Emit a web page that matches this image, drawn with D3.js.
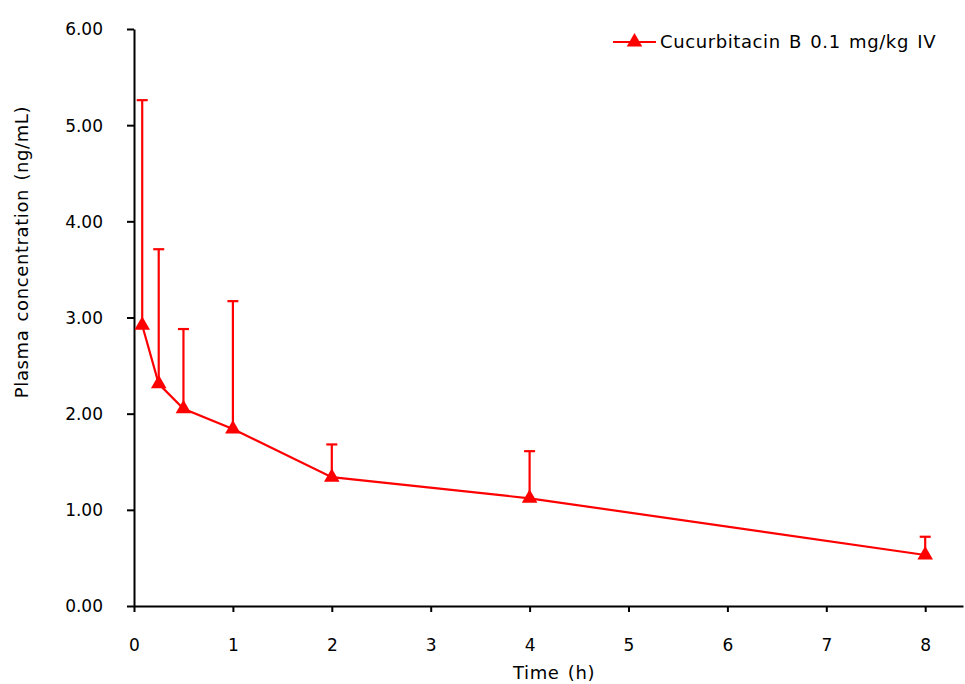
<!DOCTYPE html>
<html>
<head>
<meta charset="utf-8">
<script src="https://cdn.jsdelivr.net/npm/d3@7"></script>
<style>
  body { margin: 0; background: #fff; }
  svg text { font-family: "DejaVu Sans", sans-serif; fill: #000; }
  .lbl { font-size: 18px; letter-spacing: 0.6px; word-spacing: 2px; }
</style>
</head>
<body>
<div id="chart"></div>
<script>
// Cucurbitacin B 0.1 mg/kg IV plasma profile
const times = [0.083, 0.25, 0.5, 1, 2, 4, 8];
const conc = [2.92, 2.31, 2.05, 1.84, 1.34, 1.12, 0.53];
const errUpper = [5.26, 3.71, 2.88, 3.17, 1.68, 1.61, 0.72];
const xTicks = [0, 1, 2, 3, 4, 5, 6, 7, 8];
const yTicks = [0, 1, 2, 3, 4, 5, 6];
const seriesName = 'Cucurbitacin B 0.1 mg/kg IV';

const width = 965, height = 684;
const margin = { left: 134, right: 2, top: 29, bottom: 78 };
const red = '#ff0000';

const svg = d3.select('#chart').append('svg')
  .attr('width', width)
  .attr('height', height);

const x = d3.scaleLinear()
  .domain([0, (width - margin.right - margin.left) / 98.9])
  .range([margin.left, width - margin.right]);
const y = d3.scaleLinear()
  .domain([0, 6])
  .range([height - margin.bottom, margin.top]);

// axes
const xAxis = svg.append('g')
  .attr('transform', `translate(0,${y(0)})`)
  .call(d3.axisBottom(x).tickValues(xTicks).tickFormat(d3.format('d')).tickSize(6).tickSizeOuter(0));
const yAxis = svg.append('g')
  .attr('transform', `translate(${x(0)},0)`)
  .call(d3.axisLeft(y).tickValues(yTicks).tickFormat(d3.format('.2f')).tickSize(7).tickSizeOuter(0));

[xAxis, yAxis].forEach(g => {
  g.attr('font-family', null).attr('font-size', null);
  g.select('.domain').attr('stroke', '#000').attr('stroke-width', 2);
  g.selectAll('.tick line').attr('stroke', '#000').attr('stroke-width', 2);
  g.selectAll('.tick text').style('font-size', '17px');
});
xAxis.selectAll('.tick text').attr('y', 39).attr('dy', '0.35em');
yAxis.selectAll('.tick text').attr('x', -31).attr('dy', '0.35em');

// axis titles
svg.append('text')
  .attr('class', 'lbl')
  .attr('x', 554)
  .attr('y', 679)
  .attr('text-anchor', 'middle')
  .text('Time (h)');
svg.append('text')
  .attr('class', 'lbl')
  .attr('transform', `translate(28,252) rotate(-90)`)
  .attr('text-anchor', 'middle')
  .text('Plasma concentration (ng/mL)');

const pts = times.map((t, i) => ({ t, c: conc[i], hi: errUpper[i] }));

// error bars (upper only)
const eb = svg.append('g');
eb.selectAll('line.stem').data(pts).join('line')
  .attr('x1', d => x(d.t)).attr('x2', d => x(d.t))
  .attr('y1', d => y(d.c)).attr('y2', d => y(d.hi))
  .attr('stroke', red).attr('stroke-width', 2.2);
eb.selectAll('line.cap').data(pts).join('line')
  .attr('x1', d => x(d.t) - 5.5).attr('x2', d => x(d.t) + 5.5)
  .attr('y1', d => y(d.hi)).attr('y2', d => y(d.hi))
  .attr('stroke', red).attr('stroke-width', 2.2);

// line
svg.append('path')
  .datum(pts)
  .attr('fill', 'none')
  .attr('stroke', red)
  .attr('stroke-width', 2.2)
  .attr('d', d3.line().x(d => x(d.t)).y(d => y(d.c)));

const tri = d3.symbol().type(d3.symbolTriangle).size(105);
svg.append('g').selectAll('path').data(pts).join('path')
  .attr('transform', d => `translate(${x(d.t)},${y(d.c)})`)
  .attr('d', tri)
  .attr('fill', red);

// legend
const lg = svg.append('g').attr('transform', 'translate(613,42)');
lg.append('line').attr('x1', 0).attr('x2', 43).attr('y1', 0).attr('y2', 0)
  .attr('stroke', red).attr('stroke-width', 2.2);
lg.append('path').attr('transform', 'translate(21.5,0)').attr('d', tri).attr('fill', red);
lg.append('text').attr('class', 'lbl').attr('x', 47).attr('y', 0).attr('dy', '0.35em')
  .text(seriesName);
</script>
</body>
</html>
